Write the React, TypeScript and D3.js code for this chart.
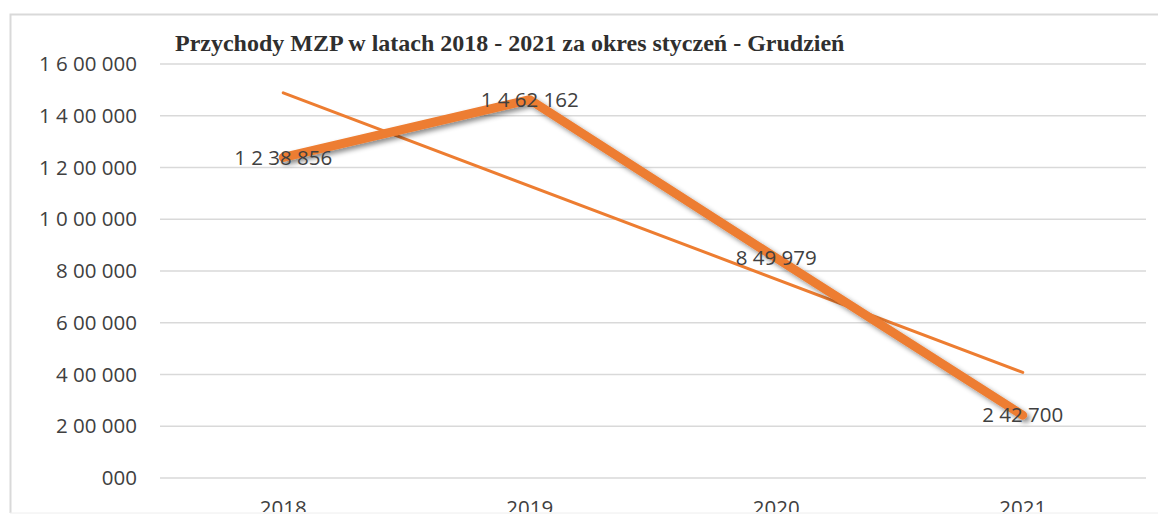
import React from 'react';
import * as d3 from 'd3';

const years = ['2018', '2019', '2020', '2021'];
const revenue = [1238856, 1462162, 849979, 242700];
const revenueLabels = ['1 2 38 856', '1 4 62 162', '8 49 979', '2 42 700'];
const yTicks = [0, 200000, 400000, 600000, 800000, 1000000, 1200000, 1400000, 1600000];
const yTickLabels = ['000', '2 00 000', '4 00 000', '6 00 000', '8 00 000', '1 0 00 000', '1 2 00 000', '1 4 00 000', '1 6 00 000'];

const W = 1158;
const H = 514;
const orange = '#ED7D31';
const labelFont = '"Open Sans", sans-serif';

// linear trend (least squares) over category index 1..n
function trend(values: number[]) {
  const xs = values.map((_, i) => i + 1);
  const mx = d3.mean(xs) as number;
  const my = d3.mean(values) as number;
  const num = d3.sum(xs, (x, i) => (x - mx) * (values[i] - my));
  const den = d3.sum(xs, x => (x - mx) ** 2);
  const slope = num / den;
  return xs.map(x => my + slope * (x - mx));
}

export default function App() {
  const x = d3.scaleBand<string>().domain(years).range([160, 1146]);
  const y = d3.scaleLinear().domain([0, 1600000]).range([478, 64]);
  const cx = (d: string) => (x(d) as number) + x.bandwidth() / 2;

  const line = d3.line<number>()
    .x((_, i) => cx(years[i]))
    .y(d => y(d));

  const trendVals = trend(revenue);
  const trendPath = d3.line<number>()
    .x((_, i) => cx(years[i === 0 ? 0 : years.length - 1]))
    .y(d => y(d))([trendVals[0], trendVals[trendVals.length - 1]]);

  return (
    <svg width={W} height={H} style={{ position: 'fixed', left: 0, top: 0, background: '#fff' }}>
      <defs>
        <filter id="shadow" x="-10%" y="-10%" width="120%" height="130%">
          <feDropShadow dx="3" dy="3" stdDeviation="2.5" floodColor="#000" floodOpacity="0.45" />
        </filter>
        <clipPath id="frame">
          <rect x={0} y={0} width={W} height={512} />
        </clipPath>
      </defs>
      <rect width={W} height={H} fill="#fff" />
      <path d={`M${W},14.5 H10.5 V513`} fill="none" stroke="#d9d9d9" strokeWidth={2} />
      <line x1={10} x2={W} y1={513} y2={513} stroke="#eeeeee" strokeWidth={1} />

      <text x={175} y={51} fontFamily='"Liberation Serif", "Times New Roman", serif' fontWeight="bold" fontSize={24} fill="#2f2f2f">
        Przychody MZP w latach 2018 - 2021 za okres styczeń - Grudzień
      </text>

      {yTicks.map((t, i) => (
        <g key={t}>
          <line x1={160} x2={1146} y1={y(t)} y2={y(t)} stroke="#d9d9d9" strokeWidth={1.5} />
          <text x={137} y={y(t)} dy="0.35em" textAnchor="end" fontFamily={labelFont} fontSize={20.5} fill="#404040">
            {yTickLabels[i]}
          </text>
        </g>
      ))}

      <g clipPath="url(#frame)">
        {years.map(yr => (
          <text key={yr} x={cx(yr)} y={515} textAnchor="middle" fontFamily={labelFont} fontSize={20.5} fill="#404040">
            {yr}
          </text>
        ))}
      </g>

      <path d={trendPath || ''} fill="none" stroke={orange} strokeWidth={3} strokeLinecap="round" />
      <path d={line(revenue) || ''} fill="none" stroke={orange} strokeWidth={9} strokeLinecap="round" strokeLinejoin="round" filter="url(#shadow)" />

      {revenue.map((v, i) => (
        <text key={i} x={cx(years[i])} y={y(v)} dy="0.35em" textAnchor="middle" fontFamily={labelFont} fontSize={20.5} fill="#404040">
          {revenueLabels[i]}
        </text>
      ))}
    </svg>
  );
}
